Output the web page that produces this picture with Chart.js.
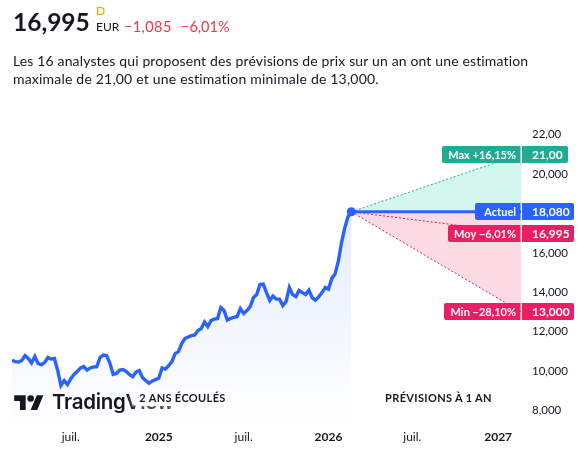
<!DOCTYPE html>
<html lang="fr"><head><meta charset="utf-8">
<script src="https://cdn.jsdelivr.net/npm/chart.js@4"></script>
<style>
html,body{margin:0;padding:0;background:#fff;width:588px;height:451px;overflow:hidden}
body{position:relative;font-family:Lato,sans-serif;color:#131722}
#c{position:absolute;left:0;top:0;width:588px;height:451px}
.t{position:absolute;white-space:nowrap;line-height:1}
.pill{position:absolute;background:#fff;border-radius:4px;box-shadow:0 0 6px 1px rgba(255,255,255,.6);font-size:11px;line-height:16px;height:16px;text-align:center;letter-spacing:.35px;font-weight:700}
</style></head><body>
<canvas id="c" width="588" height="451"></canvas>
<div class="t" style="left:13px;top:10px;font-size:24.5px;font-weight:700">16,995</div>
<div class="t" style="left:96px;top:5px;font-size:12px;color:#ff9800">D</div>
<div class="t" style="left:96px;top:21px;font-size:12px">EUR</div>
<div class="t" style="left:124px;top:20px;font-size:14.5px;color:#f23645;letter-spacing:.4px">−1,085</div>
<div class="t" style="left:181px;top:20px;font-size:14.5px;color:#f23645">−6,01%</div>
<div class="t" style="left:13px;top:54px;font-size:14px;letter-spacing:.145px">Les 16 analystes qui proposent des prévisions de prix sur un an ont une estimation</div>
<div class="t" style="left:13px;top:72px;font-size:14px;letter-spacing:.2px">maximale de 21,00 et une estimation minimale de 13,000.</div>
<svg style="position:absolute;left:14px;top:392px" width="30" height="23" viewBox="0 0 36 28"><path fill="#131722" d="M14 22H7V11H0V4h14v18zM28 22h-8l7.5-18h8L28 22z"/><circle fill="#131722" cx="20" cy="8" r="4"/></svg>
<div class="t" style="left:52px;top:392px;font-size:20.5px;font-weight:600;font-family:Inter,sans-serif;letter-spacing:-.3px">TradingView</div>
<div class="pill" style="left:133px;top:390px;width:99px">2 ANS ÉCOULÉS</div>
<div class="pill" style="left:380px;top:390px;width:117px">PRÉVISIONS À 1 AN</div>
<script>
const priceValues=[10.54,10.48,10.46,10.54,10.79,10.64,10.41,10.74,10.38,10.33,10.43,10.69,10.61,10.64,10.03,9.27,9.52,9.32,9.62,9.83,9.98,10.16,10.23,10.05,10.16,10.21,10.23,10.69,10.81,10.79,10.41,9.83,9.88,10.05,10.08,9.98,9.83,9.72,9.95,10.03,9.67,9.52,9.38,9.50,9.57,9.65,10.16,10.10,10.28,10.48,10.89,10.99,11.40,11.65,11.73,11.80,11.83,12.06,12.16,12.49,12.26,12.56,12.64,12.67,13.22,13.07,12.59,12.67,12.72,12.77,13.17,12.92,13.07,13.27,13.73,13.88,14.39,14.41,13.98,13.58,13.81,13.65,13.65,13.32,13.53,14.24,13.88,13.78,14.09,13.98,13.88,14.11,13.73,13.60,13.76,13.98,14.24,14.16,14.69,14.92,15.56,16.52,17.28,17.84,18.08];
const forecastWeeks=[104,156];
const maxTarget=[18.08,21.00];
const actualTarget=[18.08,18.08];
const avgTarget=[18.08,16.995];
const minTarget=[18.08,13.00];
const yTickValues=[22,20,16,14,12,10,8];
const yTickLabels=["22,00","20,000","16,000","14,000","12,000","10,000","8,000"];
const xTickWeeks=[18,45,71,97,122.7,149];
const xTickLabels=["juil.","2025","juil.","2026","juil.","2027"];
const badges=[
 {v:21.00,left:"Max +16,15%",right:"21,00",color:"#22ab94",lx:442,rx:568},
 {v:18.08,left:"Actuel",right:"18,080",color:"#2962ff",lx:475,rx:574},
 {v:16.995,left:"Moy −6,01%",right:"16,995",color:"#e91e63",lx:448,rx:574},
 {v:13.00,left:"Min −28,10%",right:"13,000",color:"#e91e63",lx:444,rx:574}
];
const FONT='Lato,sans-serif';
const pricePts=priceValues.map((y,i)=>({x:i,y}));
const line=a=>a.map((y,i)=>({x:forecastWeeks[i],y}));
const badgePlugin={id:'badges',afterDraw(ch){
 const c=ch.ctx,sy=ch.scales.y,splitX=ch.chartArea.right;
 c.save();c.textBaseline='middle';
 for(const b of badges){
  const y=sy.getPixelForValue(b.v),h=17,t=Math.round(y-h/2);
  c.fillStyle=b.color;
  c.beginPath();c.roundRect(b.lx,t,splitX-b.lx-0.5,h,[2,0,0,2]);c.fill();
  c.beginPath();c.roundRect(splitX+1,t,b.rx-splitX-1,h,[0,2,2,0]);c.fill();
  c.fillStyle='#fff';
  c.font='700 11px '+FONT;c.textAlign='right';c.fillText(b.left,splitX-5,t+h/2+.5);
  c.font='700 12px '+FONT;c.textAlign='left';c.fillText(b.right,532,t+h/2+.5);
 }
 c.restore();
}};
new Chart(document.getElementById('c'),{
 type:'line',
 data:{datasets:[
  {label:'Max',data:line(maxTarget),borderColor:'#22ab94',borderWidth:1,borderDash:[2,2],pointRadius:0,fill:1,backgroundColor:'#d3f6ee',order:3},
  {label:'Actuel',data:line(actualTarget),borderColor:'#2962ff',borderWidth:3,pointRadius:0,fill:false,order:1},
  {label:'Moy',data:line(avgTarget),borderColor:'#e91e63',borderWidth:1,borderDash:[2,2],pointRadius:0,fill:false,order:2},
  {label:'Min',data:line(minTarget),borderColor:'#e91e63',borderWidth:1,borderDash:[2,2],pointRadius:0,fill:1,backgroundColor:'#fcdbe5',order:4},
  {label:'Cours',data:pricePts,borderColor:'#2962ff',borderWidth:3.4,tension:0,
   pointRadius:ctx=>ctx.dataIndex===priceValues.length-1?4.5:0,pointBackgroundColor:'#2962ff',pointBorderWidth:0,
   fill:'start',order:0,
   backgroundColor(ctx){const {ctx:g,chartArea:a}=ctx.chart;if(!a)return 'transparent';
    const gr=g.createLinearGradient(0,ctx.chart.scales.y.getPixelForValue(18.08),0,a.bottom);
    gr.addColorStop(0,'rgba(41,98,255,.12)');gr.addColorStop(1,'rgba(41,98,255,0)');return gr;}}
 ]},
 options:{
  responsive:false,animation:false,devicePixelRatio:1,
  layout:{padding:{left:12,top:121.5,right:0,bottom:0}},
  plugins:{legend:{display:false},tooltip:{enabled:false}},
  scales:{
   x:{type:'linear',min:0,max:156,grid:{display:false,drawTicks:false,tickLength:0},border:{display:false},
    afterBuildTicks(s){s.ticks=xTickWeeks.map(value=>({value}));},
    afterFit(s){s.height=24.5;},
    ticks:{autoSkip:false,maxRotation:0,padding:3.5,
     callback:(v,i)=>xTickLabels[i],
     color:'#131722',
     font:c=>({family:FONT,size:12,weight:/^\d/.test(xTickLabels[c.index]||'')?'700':'400'})}},
   y:{position:'right',min:7.19,max:22.66,grid:{display:false,drawTicks:false,tickLength:0},border:{display:false},
    afterBuildTicks(s){s.ticks=yTickValues.map(value=>({value}));},
    afterFit(s){s.width=67;},
    ticks:{autoSkip:false,crossAlign:'near',padding:11,color:'#131722',
     callback:(v,i)=>yTickLabels[i],
     font:{family:FONT,size:11.5}}}
  }
 },
 plugins:[badgePlugin]
});
</script></body></html>
